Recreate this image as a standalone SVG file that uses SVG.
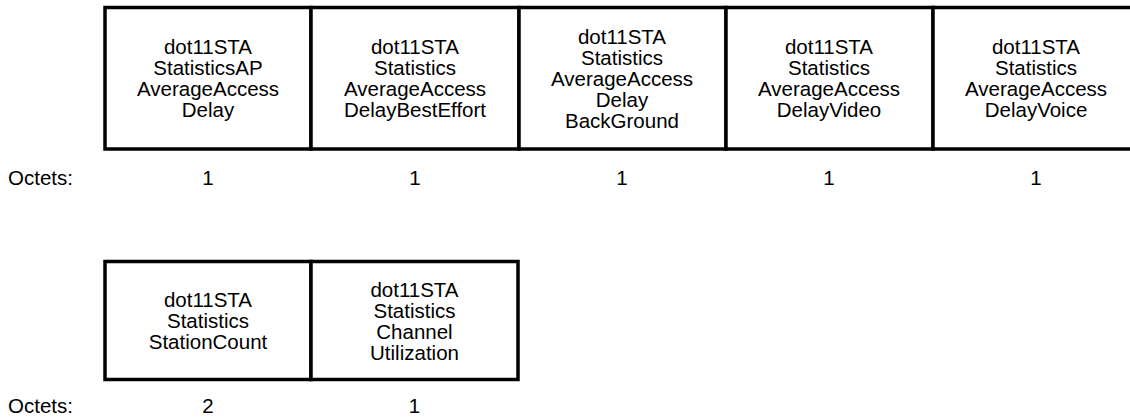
<svg xmlns="http://www.w3.org/2000/svg" width="1130" height="420" viewBox="0 0 1130 420">
<style>
.box{fill:#fff;stroke:#000;stroke-width:3.5}
text{font-family:"Liberation Sans",Arial,sans-serif;font-size:20.5px;fill:#000}
.c{text-anchor:middle}
</style>
<rect width="1130" height="420" fill="#fff"/>
<g id="f1"><rect class="box" x="105" y="7.5" width="206" height="141.5"/>
<text class="c" x="208" y="54.25">dot11STA</text><text class="c" x="208" y="75.25">StatisticsAP</text><text class="c" x="208" y="96.25">AverageAccess</text><text class="c" x="208" y="117.25">Delay</text></g>
<g id="f2"><rect class="box" x="311" y="7.5" width="208" height="141.5"/>
<text class="c" x="415" y="54.25">dot11STA</text><text class="c" x="415" y="75.25">Statistics</text><text class="c" x="415" y="96.25">AverageAccess</text><text class="c" x="415" y="117.25">DelayBestEffort</text></g>
<g id="f3"><rect class="box" x="519" y="7.5" width="207" height="141.5"/>
<text class="c" x="622" y="43.75">dot11STA</text><text class="c" x="622" y="64.75">Statistics</text><text class="c" x="622" y="85.75">AverageAccess</text><text class="c" x="622" y="106.75">Delay</text><text class="c" x="622" y="127.75">BackGround</text></g>
<g id="f4"><rect class="box" x="726" y="7.5" width="207" height="141.5"/>
<text class="c" x="829" y="54.25">dot11STA</text><text class="c" x="829" y="75.25">Statistics</text><text class="c" x="829" y="96.25">AverageAccess</text><text class="c" x="829" y="117.25">DelayVideo</text></g>
<g id="f5"><rect class="box" x="933" y="7.5" width="207" height="141.5"/>
<text class="c" x="1036" y="54.25">dot11STA</text><text class="c" x="1036" y="75.25">Statistics</text><text class="c" x="1036" y="96.25">AverageAccess</text><text class="c" x="1036" y="117.25">DelayVoice</text></g>
<g id="octets1"><text x="8" y="185">Octets:</text>
<text class="c" x="208" y="185">1</text><text class="c" x="415" y="185">1</text><text class="c" x="622" y="185">1</text><text class="c" x="829" y="185">1</text><text class="c" x="1036" y="185">1</text></g>
<g id="f6"><rect class="box" x="105" y="261.5" width="206" height="118"/>
<text class="c" x="208" y="307">dot11STA</text><text class="c" x="208" y="328">Statistics</text><text class="c" x="208" y="349">StationCount</text></g>
<g id="f7"><rect class="box" x="311" y="261.5" width="207" height="118"/>
<text class="c" x="414.5" y="296.5">dot11STA</text><text class="c" x="414.5" y="317.5">Statistics</text><text class="c" x="414.5" y="338.5">Channel</text><text class="c" x="414.5" y="359.5">Utilization</text></g>
<g id="octets2"><text x="8" y="413">Octets:</text>
<text class="c" x="208" y="413">2</text><text class="c" x="414.5" y="413">1</text></g>
<g id="connectors"/>
</svg>
